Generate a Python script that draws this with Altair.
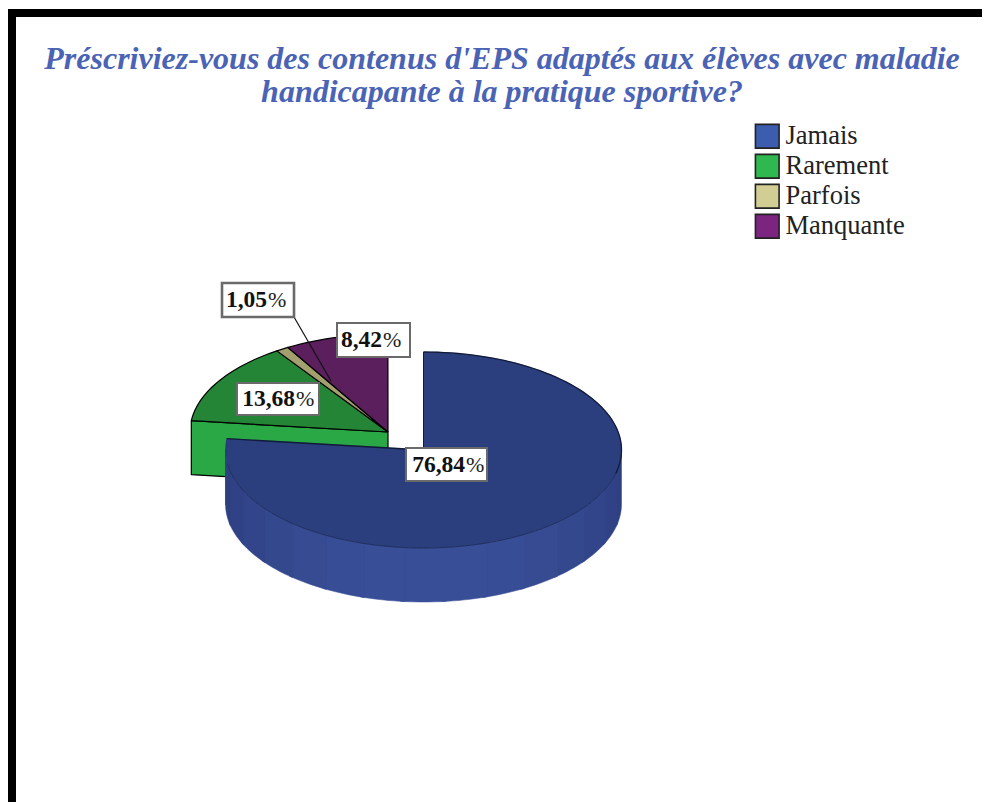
import math
import altair as alt
import pandas as pd

# ---- values ----
categories = ["Jamais", "Rarement", "Parfois", "Manquante"]
shares = [76.84, 13.68, 1.05, 8.42]
label_numbers = ["76,84", "13,68", "1,05", "8,42"]
legend_colors = ["#3c5cae", "#2fb84f", "#d2cd93", "#7b2580"]
top_colors = ["#2b3f7f", "#238535", "#a39f6e", "#5a1f5c"]
title_lines = ["Préscriviez-vous des contenus d'EPS adaptés aux élèves avec maladie",
               "handicapante à la pratique sportive?"]

# ---- page geometry ----
CX, CY = 423.5, 450      # centre of the main slice
EX, EY = 388, 432        # centre of the exploded slices
RX, RY = 198, 98
DEPTH = 54
X = alt.Scale(domain=[8, 982], nice=False, zero=False)
Y = alt.Scale(domain=[8, 802], reverse=True, nice=False, zero=False)


def pt(cx, cy, deg):
    a = math.radians(deg)
    return (cx + RX * math.sin(a), cy - RY * math.cos(a))


def arc(cx, cy, a0, a1, step=2.0):
    n = max(2, int(abs(a1 - a0) / step) + 1)
    return [pt(cx, cy, a0 + (a1 - a0) * i / (n - 1)) for i in range(n)]


def xy(points):
    return pd.DataFrame({"x": [p[0] for p in points], "y": [p[1] for p in points],
                         "i": list(range(len(points)))})


def poly(points, fill=None, stroke="black", sw=1.2):
    pts = list(points) + ([points[0]] if fill else [])
    kw = {"stroke": stroke, "strokeWidth": sw, "strokeJoin": "round"}
    if fill:
        kw["fill"] = fill
    return alt.Chart(xy(pts)).mark_line(**kw).encode(
        x=alt.X("x:Q", scale=X, axis=None),
        y=alt.Y("y:Q", scale=Y, axis=None),
        order="i:Q",
    )


def mix(c0, c1, t):
    a = [int(c0[i:i + 2], 16) for i in (1, 3, 5)]
    b = [int(c1[i:i + 2], 16) for i in (1, 3, 5)]
    return "#%02x%02x%02x" % tuple(round(u + (v - u) * t) for u, v in zip(a, b))


ends = [0]
for s in shares:
    ends.append(ends[-1] + s * 3.6)

layers = []

# frame
frame = pd.DataFrame({"x": [8, 8], "x2": [982, 16], "y": [9, 9], "y2": [17, 802]})
layers.append(alt.Chart(frame).mark_rect(color="black").encode(
    x=alt.X("x:Q", scale=X, axis=None), x2="x2:Q",
    y=alt.Y("y:Q", scale=Y, axis=None), y2="y2:Q"))

# exploded group: cut face of Rarement, then tops
a = ends[1]
p0 = pt(EX, EY, a)
face = [p0, (EX, EY), (EX, EY + DEPTH), (p0[0], p0[1] + DEPTH)]
layers.append(poly(face, fill="#2aa845"))
for i in (1, 2, 3):
    wedge = [(EX, EY)] + arc(EX, EY, ends[i], ends[i + 1])
    layers.append(poly(wedge, fill=top_colors[i]))

# main slice: rim bands, front side
band_edges = list(range(90, 276, 12)) + [270]
for a0, a1 in zip(band_edges[:-1], band_edges[1:]):
    mid = (a0 + a1) / 2
    t = max(0.0, math.cos(math.radians(mid - 180))) ** 1.3
    col = mix("#2e3f80", "#384f98", t)
    upper = arc(CX, CY, a0 - 0.6, a1 + 0.6, 1.5)
    lower = [(p[0], p[1] + DEPTH) for p in reversed(upper)]
    layers.append(poly(upper + lower, fill=col, stroke=col, sw=0.5))

# main slice: top
top_col = top_colors[0]
main_arc = arc(CX, CY, ends[0], ends[1])
layers.append(poly([(CX, CY)] + main_arc, fill=top_col, stroke=top_col, sw=0.5))
layers.append(poly(arc(CX, CY, 0, 104), stroke="#111a38", sw=1.3))
layers.append(poly(arc(CX, CY, 104, 262), stroke="#22305f", sw=1))
layers.append(poly([(CX, CY - RY), (CX, CY)], stroke="#111a38", sw=1))
layers.append(poly([(CX, CY), pt(CX, CY, ends[1])], stroke="#111a38", sw=1.3))
layers.append(poly([pt(CX, CY, ends[1]), (pt(CX, CY, ends[1])[0], CY + 6)], stroke="#2a3a7a", sw=1))

# leader line
layers.append(poly([(294, 317), (331, 381)], stroke="#111111", sw=1.2))

# label boxes and their two-part text
boxes = pd.DataFrame({
    "x": [406, 237, 222, 337], "x2": [487, 319, 294, 410],
    "y": [448, 383, 283, 323], "y2": [481, 415, 317, 357],
    "w": [2, 2, 2.6, 2],
    "split": [465, 295, 267, 382], "num": label_numbers,
})
boxes["cy"] = (boxes["y"] + boxes["y2"]) / 2
boxes["pct"] = "%"
layers.append(alt.Chart(boxes).mark_rect(fill="white", stroke="#6a6a6a").encode(
    x=alt.X("x:Q", scale=X, axis=None), x2="x2:Q",
    y=alt.Y("y:Q", scale=Y, axis=None), y2="y2:Q",
    strokeWidth=alt.StrokeWidth("w:Q", scale=None)))
layers.append(alt.Chart(boxes).mark_text(
    font="Liberation Serif", fontWeight="bold", fontSize=23.5, align="right",
    baseline="middle", color="#111111").encode(
    x=alt.X("split:Q", scale=X, axis=None), y=alt.Y("cy:Q", scale=Y, axis=None), text="num:N"))
layers.append(alt.Chart(boxes).mark_text(
    font="Liberation Serif", fontSize=22, align="left", baseline="middle",
    dx=1, color="#222222").encode(
    x=alt.X("split:Q", scale=X, axis=None), y=alt.Y("cy:Q", scale=Y, axis=None), text="pct:N"))

# legend carrier
leg = pd.DataFrame({"cat": categories, "x": [CX] * 4, "y": [CY] * 4})
layers.append(alt.Chart(leg).mark_point(filled=True, size=0, opacity=1).encode(
    x=alt.X("x:Q", scale=X, axis=None), y=alt.Y("y:Q", scale=Y, axis=None),
    color=alt.Color("cat:N", scale=alt.Scale(domain=categories, range=legend_colors),
                    legend=alt.Legend(
                        title=None, orient="none", legendX=746, legendY=115,
                        symbolType="square", symbolSize=560, symbolStrokeColor="#222222",
                        symbolStrokeWidth=1.6, symbolOpacity=1,
                        labelFont="Liberation Serif", labelFontSize=26.5, labelColor="#222222",
                        labelOffset=5, rowPadding=-1, padding=0, labelLimit=200))))

chart = alt.layer(*layers).properties(
    width=974, height=794, padding=0,
    autosize=alt.AutoSizeParams(type="none"),
    background="white",
    title=alt.TitleParams(
        text=title_lines, font="Liberation Serif", fontStyle="italic", fontWeight="bold",
        fontSize=32, lineHeight=33, color="#4a63b5", anchor="middle", frame="group",
        baseline="top", orient="top", dy=105, dx=7),
).configure_view(stroke=None)

chart.save("out.html", embed_options={"renderer": "svg", "actions": False})
